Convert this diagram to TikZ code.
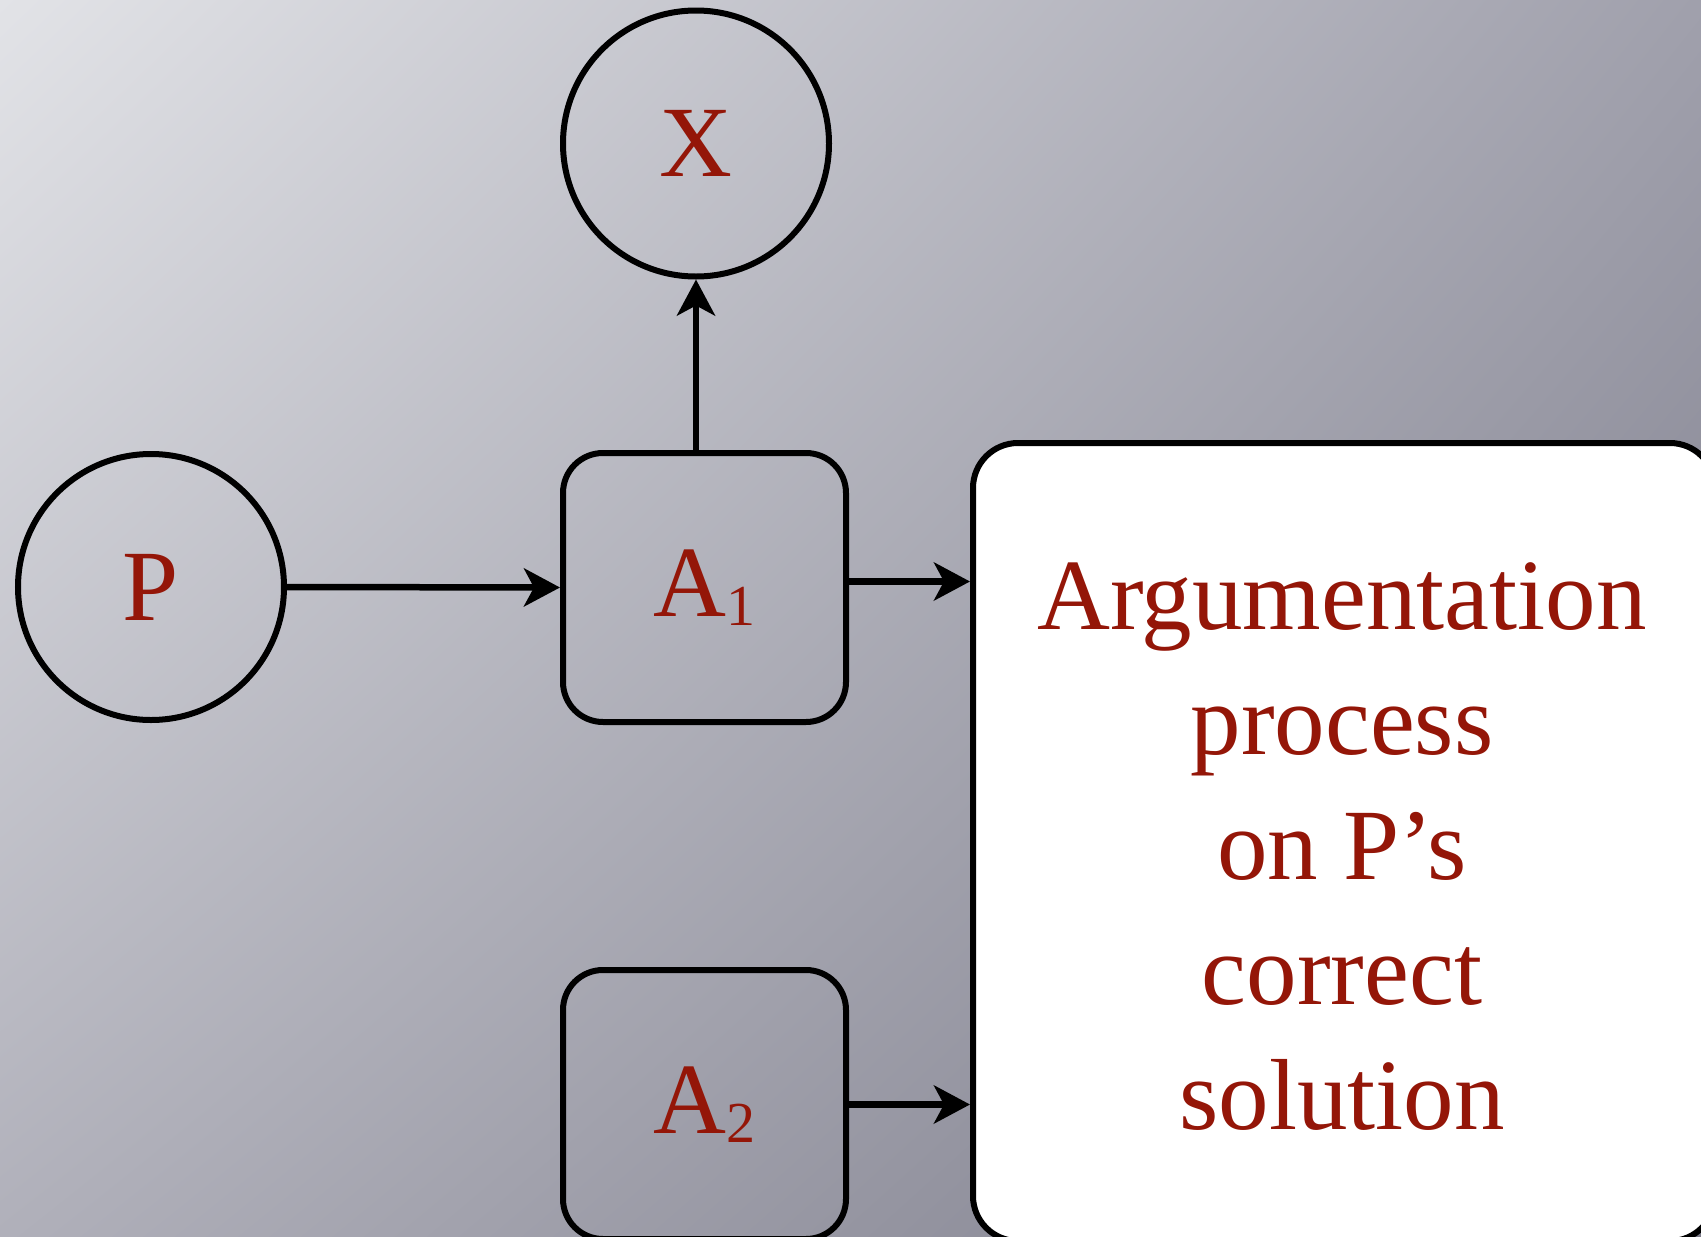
\documentclass[tikz,border=0pt]{standalone}
\usepackage{fontspec}
\setmainfont{Liberation Serif}
\usetikzlibrary{arrows.meta,shadings}
\definecolor{txtred}{RGB}{148,22,8}
\definecolor{bgA}{RGB}{226,227,231}
\definecolor{bgB}{RGB}{160,160,172}
\definecolor{bgC}{RGB}{176,176,186}
\definecolor{bgD}{RGB}{122,122,136}
\tikzset{
  lbl/.style={text=txtred, font=\fontsize{101}{125}\selectfont, inner sep=0pt},
  circnode/.style={circle, draw=black, line width=6pt, minimum size=266pt, inner sep=0pt, lbl},
  boxnode/.style={rectangle, rounded corners=40pt, draw=black, line width=6pt, minimum width=283pt, minimum height=269pt, inner sep=0pt, lbl},
  bigbox/.style={rectangle, rounded corners=45pt, draw=black, fill=white, line width=6pt, minimum width=742pt, minimum height=798pt},
  arr/.style={line width=6.5pt, -{Stealth[length=36pt, width=38pt, inset=10pt]}}
}
\begin{document}
\begin{tikzpicture}[x=1pt, y=-1pt]
\useasboundingbox (0,0) rectangle (1701,1237);
\shade[upper left=bgA, upper right=bgB, lower left=bgC, lower right=bgD] (0,0) rectangle (1701,1237);
\begin{scope}
\clip (0,0) rectangle (1701,1237);
\node[bigbox] (big) at (1344,842) {};
\node[circnode] (X) at (696,143.5) {X};
\node[circnode] (P) at (151,587) {P};
\node[boxnode] (A1) at (704.5,587.5) {A\raisebox{-9pt}{\fontsize{58}{58}\selectfont 1}};
\node[boxnode] (A2) at (704.5,1104.5) {A\raisebox{-9pt}{\fontsize{58}{58}\selectfont 2}};
\node[lbl, align=center, anchor=north] (txt) at (1342,562) {Argumentation\\process\\on P’s\\correct\\solution};
\draw[arr] (P.east) -- (A1.west);
\draw[arr] (A1.north -| X.south) -- (X.south);
\draw[arr] ([yshift=6pt]A1.east) -- ([yshift=6pt]A1.east -| big.west);
\draw[arr] (A2.east) -- (A2.east -| big.west);
\end{scope}
\end{tikzpicture}
\end{document}
